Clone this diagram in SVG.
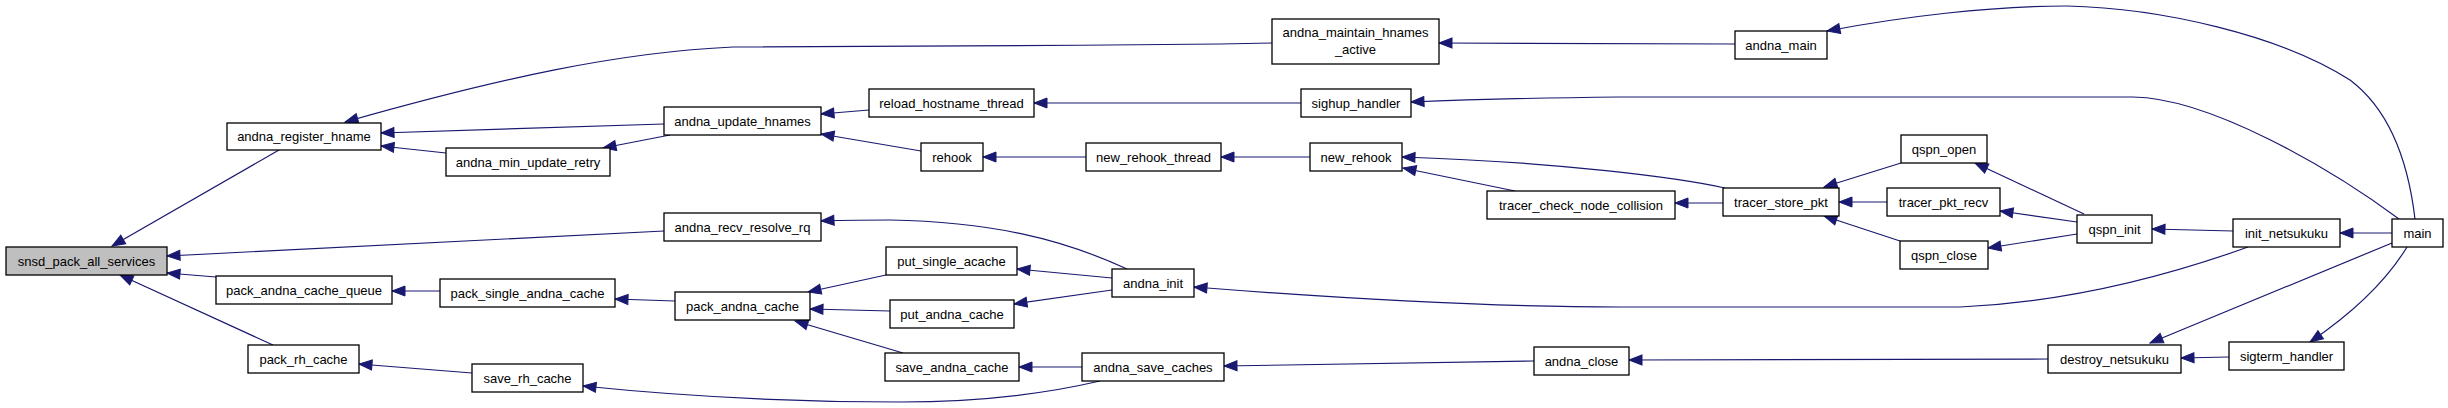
<svg xmlns="http://www.w3.org/2000/svg" width="2448" height="408" viewBox="0 0 2448 408">
<defs>
<style>
.n rect{fill:#fff;stroke:#000;stroke-width:1.3}
.n.root rect{fill:#bfbfbf}
.n text{font-family:"Liberation Sans",Arial,sans-serif;font-size:13px;fill:#000;text-anchor:middle}
#edges path{fill:none;stroke:#191970;stroke-width:1.2;marker-end:url(#ah)}
</style>
<marker id="ah" markerUnits="userSpaceOnUse" markerWidth="16" markerHeight="12" refX="13" refY="5" orient="auto" overflow="visible">
<path d="M0,0 L13,5 L0,10 z" fill="#191970" stroke="#191970" stroke-width="1"/>
</marker>
</defs>
<rect width="2448" height="408" fill="#fff"/>
<g id="edges">
<path d="M279,150 L112,246"/>
<path d="M664,231 L167,256"/>
<path d="M216,277 L167,273"/>
<path d="M273,345 L120,275"/>
<path d="M1272,43 L1220,44 C1050,46 850,46 733,47 C620,52 500,78 345,122"/>
<path d="M664,124 L381,133"/>
<path d="M446,153 L381,146"/>
<path d="M670,135 L603,148"/>
<path d="M869,110 L821,114"/>
<path d="M921,151 L821,134"/>
<path d="M1301,103 L1034,103"/>
<path d="M1086,157 L983,157"/>
<path d="M1310,157 L1221,157"/>
<path d="M1725,188 C1680,178 1560,162 1402,157"/>
<path d="M1515,191 L1403,168"/>
<path d="M1723,203 L1675,203"/>
<path d="M1901,163 L1824,187"/>
<path d="M1887,202 L1839,202"/>
<path d="M1900,241 L1824,216"/>
<path d="M2084,214 L1975,163"/>
<path d="M2077,222 L2000,211"/>
<path d="M2077,234 L1988,248"/>
<path d="M2233,231 L2152,229"/>
<path d="M2392,233 L2340,233"/>
<path d="M2415,219 C2408,160 2390,110 2350,80 C2280,35 2160,8 2067,6 C1990,6 1900,17 1827,31"/>
<path d="M1735,44 L1439,43"/>
<path d="M2399,219 C2330,168 2210,98 2133,97 L1620,97 C1520,98 1460,100 1411,102"/>
<path d="M1127,269 C1060,238 990,222 890,220 C860,220 840,220 821,221"/>
<path d="M2248,247 C2170,275 2070,302 1960,307 L1620,307 C1500,307 1360,300 1194,287"/>
<path d="M1112,278 L1017,269"/>
<path d="M1112,290 L1014,304"/>
<path d="M886,275 L808,292"/>
<path d="M890,311 L810,309"/>
<path d="M903,353 L795,321"/>
<path d="M675,301 L615,299"/>
<path d="M440,291 L392,291"/>
<path d="M1082,367 L1019,367"/>
<path d="M1534,361 L1224,366"/>
<path d="M2048,359 L1629,360"/>
<path d="M2392,243 L2150,343"/>
<path d="M2229,357 L2181,358"/>
<path d="M2407,247 C2390,275 2360,308 2310,342"/>
<path d="M472,373 L359,364"/>
<path d="M1100,381 C1040,395 970,402 900,402 C780,402 680,396 583,386"/>
</g>
<g id="snsd_pack_all_services" class="n root"><rect x="6" y="247" width="161" height="28"/><text x="86.5" y="265.5">snsd_pack_all_services</text></g>
<g id="andna_register_hname" class="n"><rect x="227" y="123" width="154" height="27"/><text x="304" y="141">andna_register_hname</text></g>
<g id="pack_andna_cache_queue" class="n"><rect x="216" y="276" width="176" height="28"/><text x="304" y="294.5">pack_andna_cache_queue</text></g>
<g id="pack_rh_cache" class="n"><rect x="248" y="345" width="111" height="28"/><text x="303.5" y="363.5">pack_rh_cache</text></g>
<g id="andna_update_hnames" class="n"><rect x="664" y="107" width="157" height="28"/><text x="742.5" y="125.5">andna_update_hnames</text></g>
<g id="andna_min_update_retry" class="n"><rect x="446" y="148" width="164" height="28"/><text x="528" y="166.5">andna_min_update_retry</text></g>
<g id="andna_recv_resolve_rq" class="n"><rect x="664" y="213" width="157" height="28"/><text x="742.5" y="231.5">andna_recv_resolve_rq</text></g>
<g id="pack_single_andna_cache" class="n"><rect x="440" y="279" width="175" height="28"/><text x="527.5" y="297.5">pack_single_andna_cache</text></g>
<g id="pack_andna_cache" class="n"><rect x="675" y="292" width="135" height="28"/><text x="742.5" y="310.5">pack_andna_cache</text></g>
<g id="save_rh_cache" class="n"><rect x="472" y="364" width="111" height="28"/><text x="527.5" y="382.5">save_rh_cache</text></g>
<g id="reload_hostname_thread" class="n"><rect x="869" y="89" width="165" height="28"/><text x="951.5" y="107.5">reload_hostname_thread</text></g>
<g id="rehook" class="n"><rect x="921" y="143" width="62" height="28"/><text x="952" y="161.5">rehook</text></g>
<g id="new_rehook_thread" class="n"><rect x="1086" y="143" width="135" height="28"/><text x="1153.5" y="161.5">new_rehook_thread</text></g>
<g id="put_single_acache" class="n"><rect x="886" y="247" width="131" height="28"/><text x="951.5" y="265.5">put_single_acache</text></g>
<g id="put_andna_cache" class="n"><rect x="890" y="300" width="124" height="28"/><text x="952" y="318.5">put_andna_cache</text></g>
<g id="save_andna_cache" class="n"><rect x="885" y="353" width="134" height="28"/><text x="952" y="371.5">save_andna_cache</text></g>
<g id="andna_init" class="n"><rect x="1112" y="269" width="82" height="28"/><text x="1153" y="287.5">andna_init</text></g>
<g id="andna_save_caches" class="n"><rect x="1082" y="353" width="142" height="28"/><text x="1153" y="371.5">andna_save_caches</text></g>
<g id="andna_maintain_hnames_active" class="n"><rect x="1272" y="19" width="167" height="45"/><text x="1355.5" y="37">andna_maintain_hnames</text><text x="1355.5" y="54">_active</text></g>
<g id="sighup_handler" class="n"><rect x="1301" y="89" width="110" height="28"/><text x="1356" y="107.5">sighup_handler</text></g>
<g id="new_rehook" class="n"><rect x="1310" y="143" width="92" height="28"/><text x="1356" y="161.5">new_rehook</text></g>
<g id="tracer_check_node_collision" class="n"><rect x="1487" y="191" width="188" height="28"/><text x="1581" y="209.5">tracer_check_node_collision</text></g>
<g id="andna_close" class="n"><rect x="1534" y="347" width="95" height="28"/><text x="1581.5" y="365.5">andna_close</text></g>
<g id="andna_main" class="n"><rect x="1735" y="31" width="92" height="28"/><text x="1781" y="49.5">andna_main</text></g>
<g id="tracer_store_pkt" class="n"><rect x="1723" y="188" width="116" height="28"/><text x="1781" y="206.5">tracer_store_pkt</text></g>
<g id="qspn_open" class="n"><rect x="1901" y="135" width="86" height="28"/><text x="1944" y="153.5">qspn_open</text></g>
<g id="tracer_pkt_recv" class="n"><rect x="1887" y="188" width="113" height="28"/><text x="1943.5" y="206.5">tracer_pkt_recv</text></g>
<g id="qspn_close" class="n"><rect x="1900" y="241" width="88" height="28"/><text x="1944" y="259.5">qspn_close</text></g>
<g id="qspn_init" class="n"><rect x="2077" y="215" width="75" height="28"/><text x="2114.5" y="233.5">qspn_init</text></g>
<g id="init_netsukuku" class="n"><rect x="2233" y="219" width="107" height="28"/><text x="2286.5" y="237.5">init_netsukuku</text></g>
<g id="main" class="n"><rect x="2392" y="219" width="51" height="28"/><text x="2417.5" y="237.5">main</text></g>
<g id="destroy_netsukuku" class="n"><rect x="2048" y="345" width="133" height="28"/><text x="2114.5" y="363.5">destroy_netsukuku</text></g>
<g id="sigterm_handler" class="n"><rect x="2229" y="342" width="115" height="28"/><text x="2286.5" y="360.5">sigterm_handler</text></g>
</svg>
